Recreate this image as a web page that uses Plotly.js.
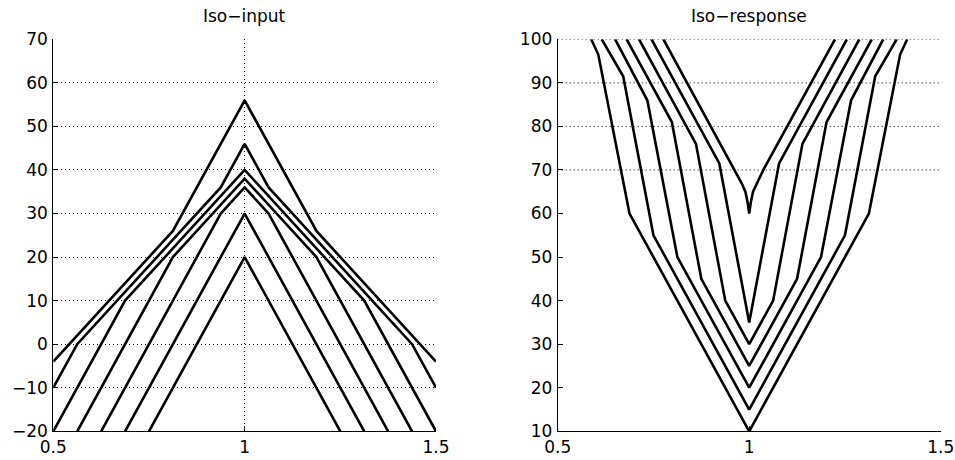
<!DOCTYPE html>
<html>
<head>
<meta charset="utf-8">
<script src="https://cdn.plot.ly/plotly-3.0.1.min.js"></script>
<style>
  html, body { margin: 0; padding: 0; background: #ffffff; }
  #chart { width: 955px; height: 460px; }
</style>
</head>
<body>
<div id="chart"></div>
<script>
// ---------- Data: Iso-input (left panel) ----------
const inputPeaks = [20, 30, 36, 38, 40, 46, 56];
const isoInputX = [
  [0.75, 1, 1.25],
  [0.6875, 1, 1.3125],
  [0.625, 0.9375, 1, 1.0625, 1.375],
  [0.5625, 0.8125, 1, 1.1875, 1.4375],
  [0.5, 0.6875, 1, 1.3125, 1.5],
  [0.5, 0.5625, 0.9375, 1, 1.0625, 1.4375, 1.5],
  [0.5, 0.8125, 1, 1.1875, 1.5]
];
const isoInputY = [
  [-20, 20, -20],
  [-20, 30, -20],
  [-20, 30, 36, 30, -20],
  [-20, 20, 38, 20, -20],
  [-20, 10, 40, 10, -20],
  [-10, 0, 36, 46, 36, 0, -10],
  [-4, 26, 56, 26, -4]
];

// ---------- Data: Iso-response (right panel) ----------
const responseMinima = [10, 15, 20, 25, 30, 35, 60];
const isoRespX = [
  [0.5875, 0.606, 0.6875, 1, 1.3125, 1.394, 1.4125],
  [0.615, 0.671, 0.75, 1, 1.25, 1.329, 1.385],
  [0.65, 0.734, 0.8125, 1, 1.1875, 1.266, 1.35],
  [0.68, 0.798, 0.875, 1, 1.125, 1.202, 1.32],
  [0.7125, 0.861, 0.9375, 1, 1.0625, 1.139, 1.2875],
  [0.745, 0.922, 1, 1.078, 1.255],
  [0.776, 0.962, 0.98, 0.99, 0.996, 1, 1.004, 1.01, 1.02, 1.038, 1.224]
];
const isoRespY = [
  [100, 96.5, 60, 10, 60, 96.5, 100],
  [100, 91.5, 55, 15, 55, 91.5, 100],
  [100, 86, 50, 20, 50, 86, 100],
  [100, 81, 45, 25, 45, 81, 100],
  [100, 76, 40, 30, 40, 76, 100],
  [100, 71.5, 35, 71.5, 100],
  [100, 70.2, 67, 65, 62.5, 60, 62.5, 65, 67, 70.2, 100]
];

// ---------- Ticks ----------
const xTickVals = [0.5, 1, 1.5];
const xTickText = ['0.5', '1', '1.5'];
const leftYTickVals = [-20, -10, 0, 10, 20, 30, 40, 50, 60, 70];
const leftYTickText = ['\u221220', '\u221210', '0', '10', '20', '30', '40', '50', '60', '70'];
const rightYTickVals = [10, 20, 30, 40, 50, 60, 70, 80, 90, 100];
const rightYTickText = ['10', '20', '30', '40', '50', '60', '70', '80', '90', '100'];
const rightGridVals = [70, 80, 90, 100];
const titles = ['Iso\u2212input', 'Iso\u2212response'];

const FONT = 'DejaVu Sans, Liberation Sans, Arial, sans-serif';
const lineStyle = { color: '#000000', width: 2.6 };

const traces = [];
isoInputX.forEach((xs, i) => {
  traces.push({
    type: 'scatter', mode: 'lines', x: xs, y: isoInputY[i],
    xaxis: 'x', yaxis: 'y', line: lineStyle, name: 'input ' + inputPeaks[i],
    hoverinfo: 'skip', showlegend: false
  });
});
isoRespX.forEach((xs, i) => {
  traces.push({
    type: 'scatter', mode: 'lines', x: xs, y: isoRespY[i],
    xaxis: 'x2', yaxis: 'y2', line: lineStyle, name: 'response ' + responseMinima[i],
    hoverinfo: 'skip', showlegend: false
  });
});

const yDom = [1 - 431.3 / 460, 1 - 39.3 / 460];
const leftXDom = [53.3 / 955, 436 / 955];
const rightXDom = [557.7 / 955, 940.7 / 955];

const baseAxis = {
  showline: true, linecolor: '#000000', linewidth: 1,
  ticks: 'inside', ticklen: 5, tickwidth: 1, tickcolor: '#000000',
  zeroline: false,
  tickfont: { family: FONT, size: 17, color: '#000000' },
  fixedrange: true
};

const shapes = rightGridVals.map(v => ({
  type: 'line', xref: 'x2 domain', yref: 'y2',
  x0: 0, x1: 1, y0: v, y1: v, layer: 'below',
  line: { color: '#000000', width: 1, dash: '1px,3px' }
}));

const layout = {
  width: 955, height: 460,
  margin: { l: 0, r: 0, t: 0, b: 0, pad: 0 },
  paper_bgcolor: '#ffffff', plot_bgcolor: '#ffffff',
  showlegend: false,
  xaxis: Object.assign({}, baseAxis, {
    domain: leftXDom, anchor: 'y', range: [0.5, 1.5],
    tickmode: 'array', tickvals: xTickVals, ticktext: xTickText,
    showgrid: true, gridcolor: '#000000', gridwidth: 1, griddash: '1px,3px',
    ticklabelstandoff: 0
  }),
  yaxis: Object.assign({}, baseAxis, {
    domain: yDom, anchor: 'x', range: [-20, 70],
    tickmode: 'array', tickvals: leftYTickVals, ticktext: leftYTickText,
    showgrid: true, gridcolor: '#000000', gridwidth: 1, griddash: '1px,3px',
    ticklabelstandoff: 1
  }),
  xaxis2: Object.assign({}, baseAxis, {
    domain: rightXDom, anchor: 'y2', range: [0.5, 1.5],
    tickmode: 'array', tickvals: xTickVals, ticktext: xTickText,
    showgrid: false, ticklabelstandoff: 0
  }),
  yaxis2: Object.assign({}, baseAxis, {
    domain: yDom, anchor: 'x2', range: [10, 100],
    tickmode: 'array', tickvals: rightYTickVals, ticktext: rightYTickText,
    showgrid: false, ticklabelstandoff: 1
  }),
  shapes: shapes,
  annotations: [
    { text: titles[0], xref: 'paper', yref: 'paper',
      x: (leftXDom[0] + leftXDom[1]) / 2, y: 1 - 16 / 460,
      xanchor: 'center', yanchor: 'middle', showarrow: false,
      font: { family: FONT, size: 17, color: '#000000' } },
    { text: titles[1], xref: 'paper', yref: 'paper',
      x: (rightXDom[0] + rightXDom[1]) / 2, y: 1 - 16 / 460,
      xanchor: 'center', yanchor: 'middle', showarrow: false,
      font: { family: FONT, size: 17, color: '#000000' } }
  ]
};

Plotly.newPlot('chart', traces, layout, { staticPlot: true, displayModeBar: false });
</script>
</body>
</html>
